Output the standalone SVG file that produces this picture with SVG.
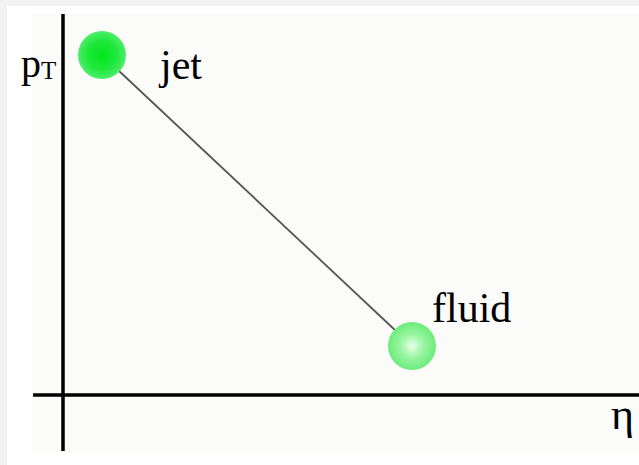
<svg xmlns="http://www.w3.org/2000/svg" width="639" height="465" viewBox="0 0 639 465">
<style>
text{font-family:'Liberation Serif','Times New Roman',serif;fill:#000;}
.axis{stroke:#000;stroke-width:3.5;fill:none;}
.conn{stroke:#555;stroke-width:1.8;fill:none;}
</style>
<defs>
<radialGradient id="gJet" cx="0.5" cy="0.5" r="0.5">
<stop offset="0" stop-color="#00e61e"/>
<stop offset="0.6" stop-color="#1ee83c"/>
<stop offset="1" stop-color="#4ded6a"/>
</radialGradient>
<radialGradient id="gFluid" cx="0.5" cy="0.5" r="0.5">
<stop offset="0" stop-color="#e8ffe8"/>
<stop offset="0.5" stop-color="#98f5a0"/>
<stop offset="1" stop-color="#6cec7c"/>
</radialGradient>
</defs>
<rect x="0" y="0" width="639" height="465" fill="#f2f2f2"/>
<rect x="7" y="6" width="632" height="459" fill="#ffffff"/>
<rect x="32" y="14" width="607" height="438" fill="#fbfbf9"/>
<g id="axes">
<line class="axis" x1="63" y1="14" x2="63" y2="451"/>
<line class="axis" x1="33" y1="395" x2="639" y2="395"/>
<text x="21" y="77" font-size="40">p<tspan font-size="25" dy="2">T</tspan></text>
<text x="611" y="429" font-size="44">η</text>
</g>
<g id="connectors">
<line class="conn" x1="102" y1="55" x2="412" y2="346"/>
</g>
<g id="jet">
<circle cx="102" cy="55" r="24" fill="url(#gJet)"/>
<text x="160" y="79" font-size="42">jet</text>
</g>
<g id="fluid">
<circle cx="412" cy="346" r="24" fill="url(#gFluid)"/>
<text x="432" y="322" font-size="42">fluid</text>
</g>
</svg>
